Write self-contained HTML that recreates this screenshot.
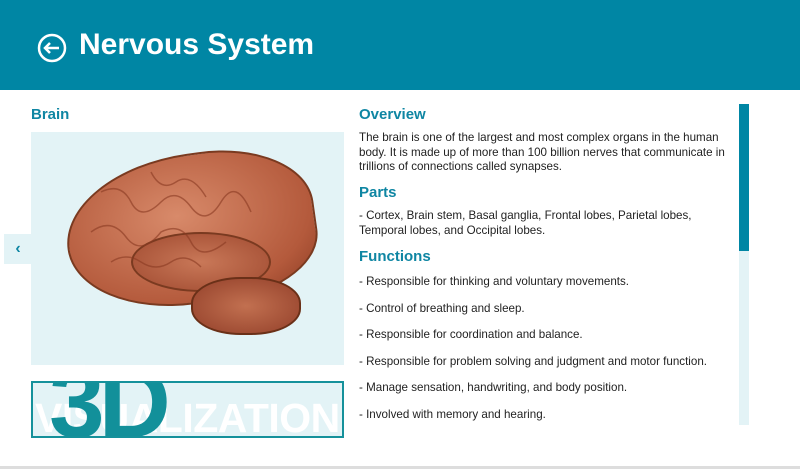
<!DOCTYPE html>
<html><head><meta charset="utf-8"><style>
*{margin:0;padding:0;box-sizing:border-box}
body{width:800px;height:469px;overflow:hidden;background:#fff;font-family:"Liberation Sans",sans-serif;position:relative}
.hdr{position:absolute;left:0;top:0;width:800px;height:90px;background:#0086a4}
.title{position:absolute;left:79px;top:28px;color:#fff;font-size:30px;font-weight:bold}
.h{position:absolute;color:#0f86a3;font-weight:bold;font-size:15px}
.p{position:absolute;left:359px;color:#222;font-size:11.6px;line-height:14.5px;width:375px}
.img{position:absolute;left:31px;top:132px;width:313px;height:233px;background:#e3f3f6;overflow:hidden}
.arrowbox{position:absolute;left:4px;top:234px;width:28px;height:30px;background:#e3f3f6;color:#0f86a3;font-weight:bold;font-size:16px;line-height:30px;text-align:center}
.viz{position:absolute;left:31px;top:381px;width:313px;height:57px;background:#e3f3f6;border:2px solid #15919b;overflow:hidden}
.track{position:absolute;left:739px;top:104px;width:10px;height:321px;background:#e3f3f6}
.thumb{position:absolute;left:739px;top:104px;width:10px;height:147px;background:#0086a4}
.bot{position:absolute;left:0;top:466px;width:800px;height:3px;background:#ddd}
</style></head><body>
<div class="hdr">
<svg style="position:absolute;left:37px;top:33px" width="30" height="30"><circle cx="15" cy="15" r="13" fill="none" stroke="#fff" stroke-width="2.5"/><path d="M8 15h14M13 10l-5 5 5 5" fill="none" stroke="#fff" stroke-width="2.5"/></svg>
<div class="title">Nervous System</div></div>
<div class="h" style="left:31px;top:106px">Brain</div>
<div class="img">
 <div style="position:absolute;left:35px;top:22px;width:250px;height:150px;border-radius:55% 45% 40% 50%;background:radial-gradient(ellipse at 45% 40%,#d88a6a,#b45a3c 70%,#8a3a22);transform:rotate(-8deg);border:2px solid #7a3a20"></div>
 <div style="position:absolute;left:100px;top:100px;width:140px;height:60px;border-radius:50%;background:radial-gradient(ellipse,#c97858,#a04a30);border:2px solid #7a3a20"></div>
 <div style="position:absolute;left:160px;top:145px;width:110px;height:58px;border-radius:45%;background:radial-gradient(ellipse,#c27050,#93402a);border:2px solid #6a3018"></div>
 <svg style="position:absolute;left:0;top:0" width="313" height="233"><g stroke="#8a3a22" stroke-width="1.5" fill="none" opacity=".6">
 <path d="M70 60 q20 -10 30 10 t30 0 q15 -15 30 5 t30 -5 t30 10"/><path d="M60 100 q20 -15 35 5 t35 -5 q20 -10 30 10 t35 0"/><path d="M80 130 q15 -10 30 0 t30 0 t30 5"/><path d="M120 40 q10 20 25 10 t30 15"/></g></svg>
</div>
<div class="arrowbox">&lsaquo;</div>
<div class="viz">
 <div style="position:absolute;left:2px;top:12px;color:#fff;font-size:41px;font-weight:bold;white-space:nowrap;letter-spacing:-0.5px">VISUALIZATION</div>
 <div style="position:absolute;left:16px;top:-30px;color:#12909a;font-size:100px;font-weight:bold;letter-spacing:-6px;line-height:100px">3D</div>
</div>
<div class="h" style="left:359px;top:106px">Overview</div>
<div class="p" style="top:131px">The brain is one of the largest and most complex organs in the human body. It is made up of more than 100 billion nerves that communicate in trillions of connections called synapses.</div>
<div class="h" style="left:359px;top:184px">Parts</div>
<div class="p" style="top:209px">- Cortex, Brain stem, Basal ganglia, Frontal lobes, Parietal lobes, Temporal lobes, and Occipital lobes.</div>
<div class="h" style="left:359px;top:248px">Functions</div>
<div class="p" style="top:275px">- Responsible for thinking and voluntary movements.</div>
<div class="p" style="top:302px">- Control of breathing and sleep.</div>
<div class="p" style="top:328px">- Responsible for coordination and balance.</div>
<div class="p" style="top:355px">- Responsible for problem solving and judgment and motor function.</div>
<div class="p" style="top:381px">- Manage sensation, handwriting, and body position.</div>
<div class="p" style="top:408px">- Involved with memory and hearing.</div>
<div class="track"></div><div class="thumb"></div>
<div class="bot"></div>
</body></html>
